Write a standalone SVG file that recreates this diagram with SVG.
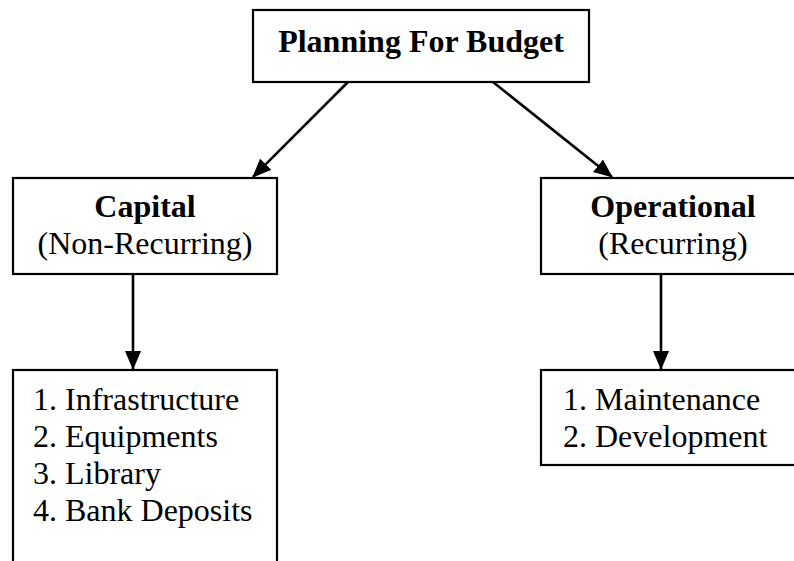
<svg xmlns="http://www.w3.org/2000/svg" width="794" height="561" viewBox="0 0 794 561">
<style>
.box{fill:#fff;stroke:#000;stroke-width:2.2}
.t{font-family:"Liberation Serif","Times New Roman","DejaVu Serif",serif;font-size:32px;fill:#000}
.b{font-weight:bold}
.c{text-anchor:middle}
.conn{stroke:#000;stroke-width:2.6;fill:none;marker-end:url(#ah)}
</style>
<defs>
<marker id="ah" markerUnits="userSpaceOnUse" markerWidth="19" markerHeight="16" refX="18" refY="8" orient="auto">
<path d="M0,0 L19,8 L0,16 z" fill="#000"/>
</marker>
</defs>
<rect width="794" height="561" fill="#fff"/>
<g id="connectors">
<line class="conn" x1="348" y1="82" x2="253" y2="177"/>
<line class="conn" x1="493" y1="82" x2="612" y2="177"/>
<line class="conn" x1="133" y1="274" x2="133" y2="369"/>
<line class="conn" x1="661" y1="274" x2="661" y2="369"/>
</g>
<g id="planning">
<rect class="box" x="253" y="10" width="336" height="72"/>
<text class="t b c" x="421" y="52">Planning For Budget</text>
</g>
<g id="capital">
<rect class="box" x="13" y="178" width="264" height="96"/>
<text class="t b c" x="145" y="217">Capital</text>
<text class="t c" x="145" y="254">(Non-Recurring)</text>
</g>
<g id="operational">
<rect class="box" x="541" y="178" width="264" height="96"/>
<text class="t b c" x="673" y="217">Operational</text>
<text class="t c" x="673" y="254">(Recurring)</text>
</g>
<g id="capital-items">
<rect class="box" x="13" y="370" width="264" height="200"/>
<text class="t" x="33" y="410">1. Infrastructure</text>
<text class="t" x="33" y="447">2. Equipments</text>
<text class="t" x="33" y="484">3. Library</text>
<text class="t" x="33" y="521">4. Bank Deposits</text>
</g>
<g id="operational-items">
<rect class="box" x="541" y="370" width="264" height="95"/>
<text class="t" x="563" y="410">1. Maintenance</text>
<text class="t" x="563" y="447">2. Development</text>
</g>
</svg>
